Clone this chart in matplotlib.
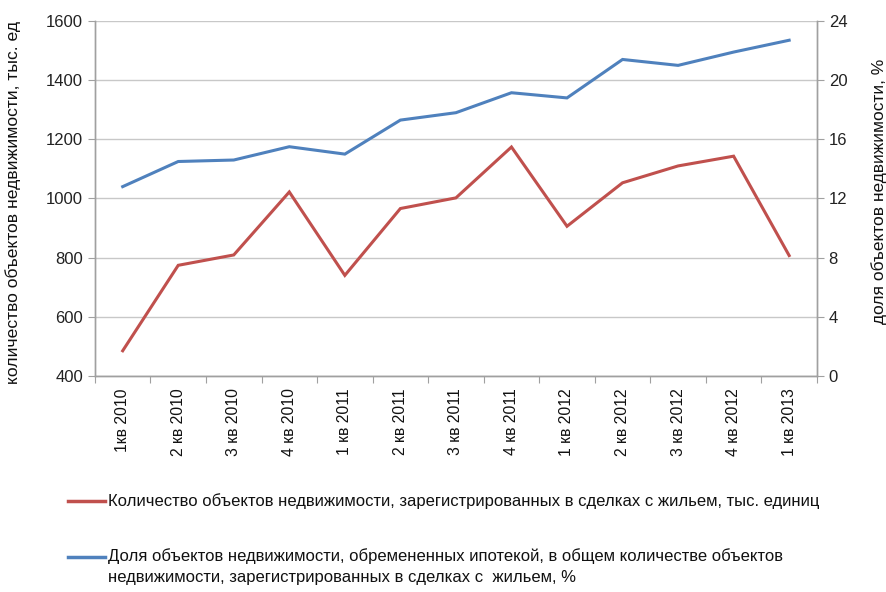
import matplotlib
matplotlib.use("Agg")
import matplotlib.pyplot as plt
from matplotlib.lines import Line2D

# ---------- data ----------
quarters = ["1кв 2010", "2 кв 2010", "3 кв 2010", "4 кв 2010",
            "1 кв 2011", "2 кв 2011", "3 кв 2011", "4 кв 2011",
            "1 кв 2012", "2 кв 2012", "3 кв 2012", "4 кв 2012", "1 кв 2013"]
objects_count = [485, 774, 809, 1022, 740, 966, 1002, 1174, 906, 1053, 1110, 1143, 807]
mortgage_share = [12.8, 14.5, 14.6, 15.5, 15.0, 17.3, 17.8, 19.15, 18.8, 21.4, 21.0, 21.9, 22.7]

left_ticks = [400, 600, 800, 1000, 1200, 1400, 1600]
right_ticks = [0, 4, 8, 12, 16, 20, 24]

label_red = "Количество объектов недвижимости, зарегистрированных в сделках с жильем, тыс. единиц"
label_blue = ("Доля объектов недвижимости, обремененных ипотекой, в общем количестве объектов\n"
              "недвижимости, зарегистрированных в сделках с  жильем, %")

RED = "#c0504d"
BLUE = "#4f81bd"
GRID = "#c8c8c8"
AX = "#a0a0a0"
TXT = "#111111"

plt.rcParams["font.family"] = ["Liberation Sans", "DejaVu Sans"]

fig = plt.figure(figsize=(8.87, 5.92), dpi=100)
ax = fig.add_axes([0.107, 0.365, 0.814, 0.5995])
ax2 = ax.twinx()

x = list(range(len(quarters)))
ax.plot(x, objects_count, color=RED, lw=2.2, solid_joinstyle="miter", zorder=3)
ax2.plot(x, mortgage_share, color=BLUE, lw=2.2, solid_joinstyle="miter", zorder=3)

ax.set_xlim(-0.5, len(quarters) - 0.5)
ax.set_ylim(400, 1600)
ax2.set_ylim(0, 24)
ax.set_yticks(left_ticks)
ax2.set_yticks(right_ticks)

# category ticks between categories, labels at centers
ax.set_xticks([i - 0.5 for i in range(len(quarters) + 1)])
ax.set_xticklabels([])
ax.set_xticks(x, minor=True)
ax.set_xticklabels(quarters, minor=True, rotation=90, fontsize=11.3, color=TXT)
ax.tick_params(axis="x", which="minor", length=0, pad=9)
ax.tick_params(axis="x", which="major", length=5, color=AX)

ax.grid(axis="y", color=GRID, lw=1)
ax.set_axisbelow(True)
ax.tick_params(axis="y", length=5, color=AX, labelsize=12, labelcolor="#222222")
ax2.tick_params(axis="y", length=5, color=AX, labelsize=12, labelcolor="#222222")

for a in (ax, ax2):
    a.spines["top"].set_visible(False)
    for s in ("left", "right", "bottom"):
        a.spines[s].set_color(AX)
        a.spines[s].set_linewidth(1)

ax.set_ylabel("количество объектов недвижимости, тыс. ед", fontsize=12.6, color=TXT)
ax.yaxis.set_label_coords(-0.103, 0.49)
ax2.set_ylabel("доля объектов недвижимости, %", fontsize=12.5, color=TXT)
ax2.yaxis.set_label_coords(1.075, 0.52)

# ---------- legend (drawn manually below the axes) ----------
leg_font = ["Liberation Sans", "DejaVu Sans"]
fig.add_artist(Line2D([68 / 887, 105 / 887], [1 - 501 / 592] * 2, color=RED, lw=2.5))
fig.text(108 / 887, 1 - 501 / 592, label_red, fontsize=12.0, family=leg_font,
         va="center", ha="left", color=TXT)
fig.add_artist(Line2D([68 / 887, 105 / 887], [1 - 557 / 592] * 2, color=BLUE, lw=2.5))
fig.text(108 / 887, 1 - 548 / 592, label_blue, fontsize=12.0, family=leg_font,
         va="top", ha="left", color=TXT, linespacing=1.55)

fig.savefig("out.png", dpi=100)
